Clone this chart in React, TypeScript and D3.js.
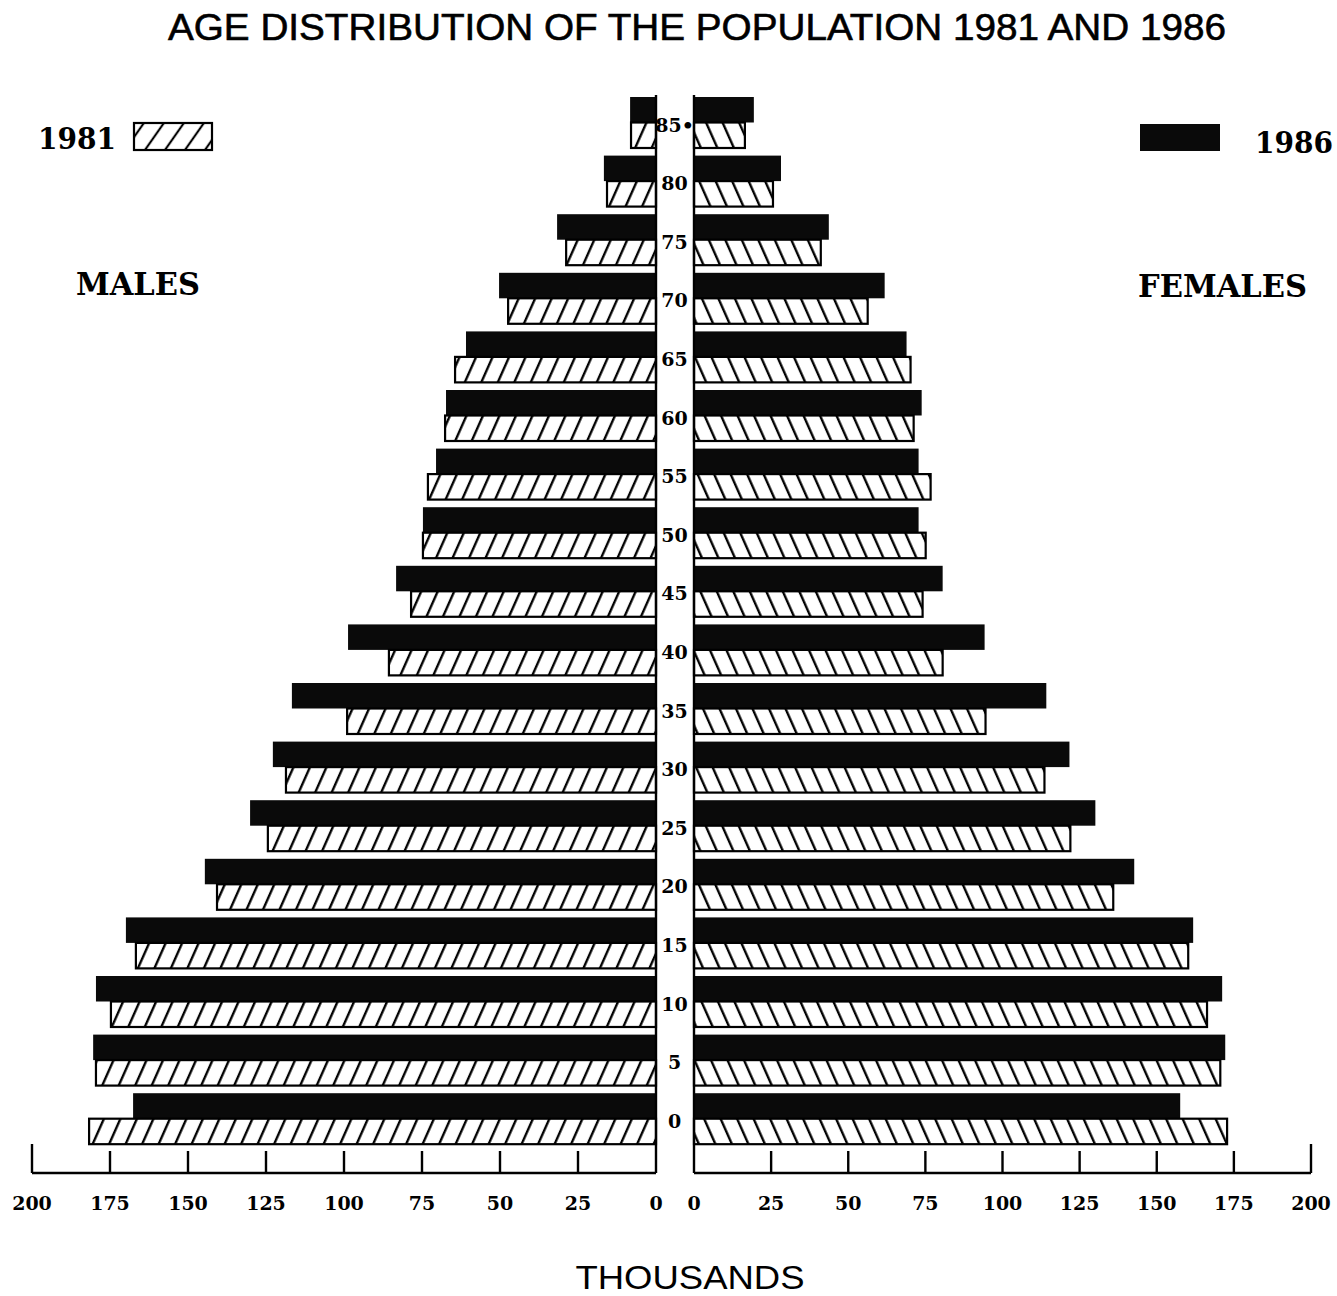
import * as d3 from 'd3';

// age groups, top of the chart first
const ages = [85, 80, 75, 70, 65, 60, 55, 50, 45, 40, 35, 30, 25, 20, 15, 10, 5, 0];
const ageLabels = ['85•', '80', '75', '70', '65', '60', '55', '50', '45', '40', '35', '30', '25', '20', '15', '10', '5', '0'];

// thousands, same order as ages
const males1986 = [8.3, 16.7, 31.7, 50.3, 60.9, 67.3, 70.5, 74.7, 83.3, 98.7, 116.7, 122.8, 130.1, 144.6, 169.9, 179.5, 180.4, 167.6];
const males1981 = [8.0, 15.7, 28.8, 47.4, 64.4, 67.6, 73.1, 74.7, 78.5, 85.6, 99.0, 118.6, 124.4, 140.7, 166.7, 174.7, 179.5, 181.7];
const females1986 = [19.4, 28.2, 43.7, 61.8, 68.9, 73.8, 72.8, 72.8, 80.6, 94.2, 114.2, 121.7, 130.1, 142.7, 161.8, 171.2, 172.2, 157.6];
const females1981 = [16.5, 25.6, 41.1, 56.3, 70.2, 71.2, 76.7, 75.1, 74.1, 80.6, 94.5, 113.6, 122.0, 135.9, 160.2, 166.3, 170.6, 172.8];

const years = ['1986', '1981'];
const tickValues = [0, 25, 50, 75, 100, 125, 150, 175, 200];

const W = 1337;
const H = 1296;
const axisY = 1173;

const serif = "'DejaVu Serif', serif";
const sans = "'Liberation Sans', Arial, sans-serif";

export default function App() {
  const xL = d3.scaleLinear().domain([0, 200]).range([656, 32]);
  const xR = d3.scaleLinear().domain([0, 200]).range([694, 1311]);

  const y = d3.scaleBand<number>()
    .domain(ages)
    .range([93.2, 1148])
    .paddingInner(0.13)
    .paddingOuter(0.065);

  const sub = d3.scaleBand<string>()
    .domain(years)
    .range([0, y.bandwidth()]);

  const rows = ages.map((a, i) => ({
    age: a,
    label: ageLabels[i],
    m86: males1986[i],
    m81: males1981[i],
    f86: females1986[i],
    f81: females1981[i],
  }));

  const hatchStroke = { stroke: '#000', strokeWidth: 2.2 };

  return (
    <svg
      width={W}
      height={H}
      style={{ position: 'absolute', left: 0, top: 0, background: '#fff' }}
    >
      <defs>
        <pattern id="hatchL" patternUnits="userSpaceOnUse" width={16.5} height={200} patternTransform="skewX(-24)">
          <rect width={16.5} height={200} fill="#fff" />
          <line x1={8} y1={0} x2={8} y2={200} stroke="#000" strokeWidth={2.6} />
        </pattern>
        <pattern id="hatchR" patternUnits="userSpaceOnUse" width={16.5} height={200} patternTransform="skewX(24)">
          <rect width={16.5} height={200} fill="#fff" />
          <line x1={8} y1={0} x2={8} y2={200} stroke="#000" strokeWidth={2.6} />
        </pattern>
        <pattern id="hatchLegend" patternUnits="userSpaceOnUse" width={20} height={200} patternTransform="skewX(-35)">
          <rect width={20} height={200} fill="#fff" />
          <line x1={10} y1={0} x2={10} y2={200} stroke="#000" strokeWidth={2.6} />
        </pattern>
      </defs>

      {/* title */}
      <text x={697} y={40} textAnchor="middle" fontFamily={sans} fontSize={37}
        stroke="#000" strokeWidth={0.6}
        textLength={1058} lengthAdjust="spacingAndGlyphs" fill="#000">
        AGE DISTRIBUTION OF THE POPULATION 1981 AND 1986
      </text>

      {/* legend */}
      <text x={38} y={149} fontFamily={serif} fontWeight="bold" fontSize={29}
        textLength={78} lengthAdjust="spacingAndGlyphs">1981</text>
      <rect x={134} y={123} width={78} height={27} fill="url(#hatchLegend)" {...hatchStroke} />
      <rect x={1140} y={124} width={80} height={27} fill="#0a0a0a" />
      <text x={1255} y={153} fontFamily={serif} fontWeight="bold" fontSize={29}
        textLength={78} lengthAdjust="spacingAndGlyphs">1986</text>

      <text x={76} y={295} fontFamily={serif} fontWeight="bold" fontSize={32}
        textLength={124} lengthAdjust="spacingAndGlyphs">MALES</text>
      <text x={1138} y={297} fontFamily={serif} fontWeight="bold" fontSize={32}
        textLength={169} lengthAdjust="spacingAndGlyphs">FEMALES</text>

      {/* bars */}
      {rows.map(r => {
        const y0 = y(r.age) as number;
        const yDark = y0 + (sub('1986') as number);
        const yHatch = y0 + (sub('1981') as number);
        const h = sub.bandwidth();
        return (
          <g key={r.age}>
            <rect x={xL(r.m86)} y={yDark} width={xL(0) - xL(r.m86)} height={h} fill="#0a0a0a" />
            <rect x={xL(r.m81)} y={yHatch} width={xL(0) - xL(r.m81)} height={h}
              fill="url(#hatchL)" {...hatchStroke} />
            <rect x={xR(0)} y={yDark} width={xR(r.f86) - xR(0)} height={h} fill="#0a0a0a" />
            <rect x={xR(0)} y={yHatch} width={xR(r.f81) - xR(0)} height={h}
              fill="url(#hatchR)" {...hatchStroke} />
            <text x={(xL(0) + xR(0)) / 2 - 0.5} y={y0 + h + 9} textAnchor="middle"
              fontFamily={serif} fontWeight="bold" fontSize={19}>{r.label}</text>
          </g>
        );
      })}

      {/* centre baselines */}
      <line x1={xL(0)} x2={xL(0)} y1={95} y2={axisY} stroke="#000" strokeWidth={2.4} />
      <line x1={xR(0)} x2={xR(0)} y1={95} y2={axisY} stroke="#000" strokeWidth={2.4} />

      {/* axes */}
      {[xL, xR].map((sc, k) => (
        <g key={k}>
          <line x1={sc(0)} x2={sc(200)} y1={axisY} y2={axisY} stroke="#000" strokeWidth={2.4} />
          {tickValues.filter(t => t > 0).map(t => (
            <line key={t} x1={sc(t)} x2={sc(t)} y1={t === 200 ? 1144 : 1151} y2={axisY}
              stroke="#000" strokeWidth={2.4} />
          ))}
          {tickValues.map(t => (
            <text key={t} x={sc(t)} y={1210} textAnchor="middle" fontFamily={serif}
              fontWeight="bold" fontSize={19}>{t}</text>
          ))}
        </g>
      ))}

      <text x={690} y={1289} textAnchor="middle" fontFamily={sans} fontSize={34}
        textLength={229} lengthAdjust="spacingAndGlyphs">THOUSANDS</text>
    </svg>
  );
}
